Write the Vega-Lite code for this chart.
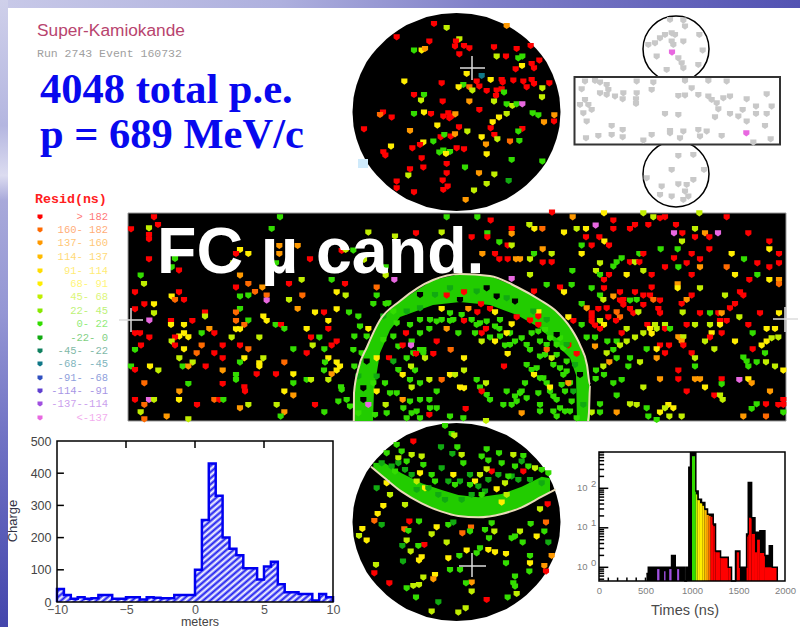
{"$schema":"https://vega.github.io/schema/vega-lite/v6.json","width":800,"height":627,"padding":0,"autosize":{"type":"none"},"background":"white","config":{"view":{"stroke":null}},"resolve":{"scale":{"x":"independent","y":"independent"}},
"datasets":{"disk":[{"x":352.5,"t":112,"b":112},{"x":353.5,"t":98,"b":126},{"x":354.5,"t":93,"b":131},{"x":356.5,"t":85,"b":139},{"x":360.5,"t":74,"b":150},{"x":366.5,"t":62,"b":162},{"x":371.5,"t":55,"b":169},{"x":376.5,"t":49,"b":175},{"x":386.5,"t":39,"b":185},{"x":391.5,"t":35,"b":189},{"x":398.5,"t":30,"b":194},{"x":406.5,"t":25,"b":199},{"x":416.5,"t":21,"b":203},{"x":426.5,"t":17,"b":207},{"x":441.5,"t":14,"b":210},{"x":456.5,"t":13,"b":211},{"x":471.5,"t":14,"b":210},{"x":486.5,"t":17,"b":207},{"x":496.5,"t":21,"b":203},{"x":506.5,"t":25,"b":199},{"x":514.5,"t":30,"b":194},{"x":521.5,"t":35,"b":189},{"x":526.5,"t":39,"b":185},{"x":536.5,"t":49,"b":175},{"x":541.5,"t":55,"b":169},{"x":546.5,"t":62,"b":162},{"x":552.5,"t":74,"b":150},{"x":556.5,"t":85,"b":139},{"x":558.5,"t":93,"b":131},{"x":559.5,"t":98,"b":126},{"x":560.5,"t":112,"b":112}]},
"layer":[
{"data":{"values":[{"x":0,"x2":800,"y":0,"y2":8}]},"mark":{"type":"rect","color":{"gradient":"linear","x1":0,"y1":0,"x2":1,"y2":0,"stops":[{"offset":0,"color":"#c8c9e8"},{"offset":0.35,"color":"#aeb0de"},{"offset":0.6,"color":"#8080c8"},{"offset":1,"color":"#5252b2"}]}},"encoding":{"x":{"field":"x","type":"quantitative","scale":{"domain":[0,800],"range":[0,800],"nice":false},"axis":null},"x2":{"field":"x2"},"y":{"field":"y","type":"quantitative","scale":{"domain":[0,627],"range":[0,627],"nice":false},"axis":null},"y2":{"field":"y2"}}},
{"data":{"values":[{"x":0,"x2":8,"y":0,"y2":627}]},"mark":{"type":"rect","color":{"gradient":"linear","x1":0,"y1":0,"x2":0,"y2":1,"stops":[{"offset":0,"color":"#cfd0ea"},{"offset":0.2,"color":"#b4b6e0"},{"offset":0.28,"color":"#dcdcf0"},{"offset":0.32,"color":"#a8a9da"},{"offset":0.5,"color":"#9496d4"},{"offset":0.7,"color":"#7072c4"},{"offset":1,"color":"#4446ac"}]}},"encoding":{"x":{"field":"x","type":"quantitative","scale":{"domain":[0,800],"range":[0,800],"nice":false},"axis":null},"x2":{"field":"x2"},"y":{"field":"y","type":"quantitative","scale":{"domain":[0,627],"range":[0,627],"nice":false},"axis":null},"y2":{"field":"y2"}}},
{"data":{"name":"disk"},"mark":{"type":"area","color":"black"},"encoding":{"x":{"field":"x","type":"quantitative","scale":{"domain":[0,800],"range":[0,800],"nice":false},"axis":null},"y":{"field":"t","type":"quantitative","scale":{"domain":[0,627],"range":[0,627],"nice":false},"axis":null},"y2":{"field":"b"}}},
{"data":{"name":"disk"},"mark":{"type":"area","color":"black"},"encoding":{"x":{"field":"x","type":"quantitative","scale":{"domain":[0,800],"range":[0,800],"nice":false},"axis":null},"y":{"field":"t","type":"quantitative","scale":{"domain":[0,627],"range":[410,1037],"nice":false},"axis":null},"y2":{"field":"b"}}},
{"data":{"values":[{"x":128,"x2":786,"y":213,"y2":421}]},"mark":{"type":"rect","color":"black","stroke":"#999999","strokeWidth":1},"encoding":{"x":{"field":"x","type":"quantitative","scale":{"domain":[0,800],"range":[0,800],"nice":false},"axis":null},"x2":{"field":"x2"},"y":{"field":"y","type":"quantitative","scale":{"domain":[0,627],"range":[0,627],"nice":false},"axis":null},"y2":{"field":"y2"}}},
{"data":{"values":[{"x":676,"y":49},{"x":676,"y":174}]},"mark":{"type":"point","shape":"circle","size":4356,"color":"black","fill":"white","filled":false,"fillOpacity":1,"strokeWidth":1.5,"opacity":1},"encoding":{"x":{"field":"x","type":"quantitative","scale":{"domain":[0,800],"range":[0,800],"nice":false},"axis":null},"y":{"field":"y","type":"quantitative","scale":{"domain":[0,627],"range":[0,627],"nice":false},"axis":null}}},
{"data":{"values":[{"x":574.5,"x2":780,"y":77,"y2":144.5}]},"mark":{"type":"rect","color":"white","stroke":"#333333","strokeWidth":2},"encoding":{"x":{"field":"x","type":"quantitative","scale":{"domain":[0,800],"range":[0,800],"nice":false},"axis":null},"x2":{"field":"x2"},"y":{"field":"y","type":"quantitative","scale":{"domain":[0,627],"range":[0,627],"nice":false},"axis":null},"y2":{"field":"y2"}}},
{"data":{"values":[{"x":358,"x2":368,"y":159,"y2":168}]},"mark":{"type":"rect","color":"#cfeafb"},"encoding":{"x":{"field":"x","type":"quantitative","scale":{"domain":[0,800],"range":[0,800],"nice":false},"axis":null},"x2":{"field":"x2"},"y":{"field":"y","type":"quantitative","scale":{"domain":[0,627],"range":[0,627],"nice":false},"axis":null},"y2":{"field":"y2"}}},
{"data":{"values":[{"x":354,"t":393,"b":421},{"x":358,"t":370,"b":421},{"x":367,"t":347,"b":421},{"x":373,"t":333,"b":421},{"x":374,"t":333,"b":390},{"x":380,"t":320,"b":353},{"x":390,"t":310,"b":330},{"x":400,"t":301,"b":317},{"x":433,"t":280,"b":305},{"x":460,"t":274,"b":302},{"x":490,"t":276,"b":305},{"x":517,"t":287,"b":315},{"x":540,"t":300,"b":328},{"x":557,"t":312,"b":345},{"x":570,"t":327,"b":358},{"x":576,"t":336,"b":375},{"x":577,"t":337,"b":421},{"x":580,"t":345,"b":421},{"x":587,"t":365,"b":421},{"x":590,"t":385,"b":421}]},"mark":{"type":"area","color":"#22cc00"},"encoding":{"x":{"field":"x","type":"quantitative","scale":{"domain":[0,800],"range":[0,800],"nice":false},"axis":null},"y":{"field":"t","type":"quantitative","scale":{"domain":[0,627],"range":[0,627],"nice":false},"axis":null},"y2":{"field":"b"}}},
{"data":{"values":[{"x":85,"t":128,"b":145},{"x":120,"t":130,"b":175},{"x":170,"t":160,"b":215},{"x":230,"t":190,"b":250},{"x":290,"t":210,"b":275},{"x":340,"t":225,"b":288},{"x":400,"t":232,"b":292},{"x":470,"t":222,"b":282},{"x":530,"t":200,"b":262},{"x":590,"t":170,"b":230},{"x":615,"t":175,"b":215}]},"mark":{"type":"area","color":"#22cc00"},"encoding":{"x":{"field":"x","type":"quantitative","scale":{"domain":[0,675],"range":[345,570],"nice":false},"axis":null},"y":{"field":"t","type":"quantitative","scale":{"domain":[0,621],"range":[420,627],"nice":false},"axis":null},"y2":{"field":"b"}}},
{"data":{"values":[{"x":252,"y":72,"c":"r"},{"x":290,"y":84,"c":"l"},{"x":470,"y":78,"c":"a"},{"x":140,"y":112,"c":"r"},{"x":238,"y":125,"c":"r"},{"x":328,"y":118,"c":"l"},{"x":318,"y":125,"c":"r"},{"x":315,"y":140,"c":"r"},{"x":342,"y":138,"c":"r"},{"x":358,"y":145,"c":"r"},{"x":432,"y":142,"c":"r"},{"x":500,"y":147,"c":"r"},{"x":542,"y":138,"c":"r"},{"x":192,"y":152,"c":"g"},{"x":215,"y":152,"c":"y"},{"x":225,"y":147,"c":"a"},{"x":328,"y":163,"c":"r"},{"x":440,"y":170,"c":"l"},{"x":468,"y":170,"c":"r"},{"x":505,"y":175,"c":"g"},{"x":517,"y":170,"c":"g"},{"x":568,"y":182,"c":"r"},{"x":545,"y":192,"c":"r"},{"x":552,"y":205,"c":"r"},{"x":516,"y":198,"c":"y"},{"x":497,"y":208,"c":"r"},{"x":350,"y":222,"c":"y"},{"x":395,"y":228,"c":"t"},{"x":422,"y":240,"c":"y"},{"x":455,"y":240,"c":"r"},{"x":458,"y":248,"c":"r"},{"x":490,"y":242,"c":"r"},{"x":520,"y":245,"c":"r"},{"x":530,"y":262,"c":"r"},{"x":545,"y":240,"c":"r"},{"x":552,"y":252,"c":"r"},{"x":598,"y":250,"c":"r"},{"x":577,"y":265,"c":"l"},{"x":576,"y":292,"c":"l"},{"x":163,"y":245,"c":"y"},{"x":275,"y":250,"c":"r"},{"x":340,"y":255,"c":"g"},{"x":326,"y":262,"c":"y"},{"x":358,"y":262,"c":"o"},{"x":367,"y":272,"c":"l"},{"x":380,"y":245,"c":"r"},{"x":388,"y":260,"c":"r"},{"x":410,"y":273,"c":"r"},{"x":440,"y":272,"c":"r"},{"x":455,"y":268,"c":"r"},{"x":462,"y":278,"c":"g"},{"x":438,"y":288,"c":"r"},{"x":192,"y":285,"c":"r"},{"x":222,"y":285,"c":"g"},{"x":213,"y":302,"c":"l"},{"x":278,"y":305,"c":"r"},{"x":358,"y":305,"c":"a"},{"x":432,"y":305,"c":"l"},{"x":388,"y":330,"c":"r"},{"x":470,"y":313,"c":"g"},{"x":487,"y":318,"c":"l"},{"x":500,"y":313,"c":"g"},{"x":517,"y":313,"c":"p"},{"x":99,"y":338,"c":"r"},{"x":90,"y":345,"c":"o"},{"x":125,"y":353,"c":"r"},{"x":192,"y":342,"c":"g"},{"x":222,"y":338,"c":"y"},{"x":243,"y":342,"c":"r"},{"x":280,"y":350,"c":"r"},{"x":295,"y":340,"c":"r"},{"x":305,"y":350,"c":"r"},{"x":316,"y":343,"c":"a"},{"x":298,"y":355,"c":"r"},{"x":548,"y":340,"c":"g"},{"x":565,"y":346,"c":"g"},{"x":613,"y":346,"c":"a"},{"x":612,"y":365,"c":"r"},{"x":470,"y":342,"c":"l"},{"x":447,"y":353,"c":"y"},{"x":428,"y":367,"c":"y"},{"x":582,"y":367,"c":"a"},{"x":42,"y":388,"c":"r"},{"x":262,"y":377,"c":"y"},{"x":327,"y":382,"c":"r"},{"x":180,"y":393,"c":"a"},{"x":352,"y":395,"c":"l"},{"x":422,"y":385,"c":"r"},{"x":517,"y":387,"c":"r"},{"x":505,"y":395,"c":"g"},{"x":272,"y":412,"c":"r"},{"x":283,"y":405,"c":"g"},{"x":302,"y":410,"c":"r"},{"x":315,"y":403,"c":"a"},{"x":395,"y":412,"c":"y"},{"x":433,"y":405,"c":"r"},{"x":442,"y":418,"c":"l"},{"x":508,"y":423,"c":"g"},{"x":480,"y":425,"c":"o"},{"x":123,"y":440,"c":"y"},{"x":250,"y":425,"c":"g"},{"x":220,"y":428,"c":"y"},{"x":210,"y":435,"c":"r"},{"x":187,"y":445,"c":"r"},{"x":320,"y":445,"c":"r"},{"x":342,"y":448,"c":"r"},{"x":408,"y":434,"c":"a"},{"x":100,"y":457,"c":"r"},{"x":106,"y":467,"c":"r"},{"x":268,"y":458,"c":"g"},{"x":280,"y":452,"c":"g"},{"x":300,"y":456,"c":"g"},{"x":288,"y":462,"c":"y"},{"x":410,"y":463,"c":"y"},{"x":215,"y":475,"c":"r"},{"x":485,"y":480,"c":"g"},{"x":577,"y":485,"c":"g"},{"x":290,"y":492,"c":"r"},{"x":220,"y":503,"c":"r"},{"x":345,"y":503,"c":"g"},{"x":180,"y":508,"c":"r"},{"x":175,"y":527,"c":"l"},{"x":290,"y":520,"c":"r"},{"x":387,"y":520,"c":"a"},{"x":433,"y":524,"c":"l"},{"x":278,"y":542,"c":"r"},{"x":140,"y":545,"c":"r"},{"x":476,"y":543,"c":"d"},{"x":410,"y":552,"c":"l"},{"x":293,"y":560,"c":"r"},{"x":280,"y":570,"c":"r"},{"x":140,"y":565,"c":"r"},{"x":192,"y":577,"c":"r"},{"x":372,"y":572,"c":"l"},{"x":347,"y":600,"c":"a"},
{"x":960,"y":60,"c":"s"},{"x":1000,"y":62,"c":"s"},{"x":1005,"y":80,"c":"s"},{"x":1048,"y":105,"c":"s"},{"x":945,"y":105,"c":"s"},{"x":930,"y":115,"c":"s"},{"x":915,"y":130,"c":"s"},{"x":965,"y":100,"c":"s"},{"x":975,"y":105,"c":"s"},{"x":1000,"y":125,"c":"s"},{"x":965,"y":125,"c":"s"},{"x":895,"y":135,"c":"s"},{"x":1058,"y":152,"c":"s"},{"x":920,"y":170,"c":"s"},{"x":985,"y":175,"c":"s"},{"x":995,"y":190,"c":"s"},{"x":1000,"y":205,"c":"s"},{"x":1045,"y":195,"c":"s"},{"x":950,"y":210,"c":"s"},{"x":970,"y":135,"c":"s"},{"x":966,"y":158,"c":"p"},
{"x":705,"y":245,"c":"s"},{"x":735,"y":243,"c":"s"},{"x":750,"y":248,"c":"s"},{"x":770,"y":255,"c":"s"},{"x":775,"y":270,"c":"s"},{"x":695,"y":268,"c":"s"},{"x":750,"y":280,"c":"s"},{"x":770,"y":285,"c":"s"},{"x":795,"y":290,"c":"s"},{"x":820,"y":280,"c":"s"},{"x":818,"y":298,"c":"s"},{"x":860,"y":245,"c":"s"},{"x":860,"y":280,"c":"s"},{"x":858,"y":298,"c":"s"},{"x":858,"y":312,"c":"s"},{"x":910,"y":248,"c":"s"},{"x":905,"y":270,"c":"s"},{"x":1005,"y":243,"c":"s"},{"x":1025,"y":265,"c":"s"},{"x":1075,"y":243,"c":"s"},{"x":1130,"y":245,"c":"s"},{"x":985,"y":288,"c":"s"},{"x":1005,"y":287,"c":"s"},{"x":1045,"y":285,"c":"s"},{"x":1075,"y":290,"c":"s"},{"x":1085,"y":300,"c":"s"},{"x":1100,"y":310,"c":"s"},{"x":1120,"y":295,"c":"s"},{"x":1140,"y":290,"c":"s"},{"x":1190,"y":298,"c":"s"},{"x":1250,"y":283,"c":"s"},{"x":1265,"y":320,"c":"s"},{"x":1218,"y":320,"c":"s"},{"x":1178,"y":330,"c":"s"},{"x":1165,"y":350,"c":"s"},{"x":1140,"y":342,"c":"s"},{"x":1095,"y":352,"c":"s"},{"x":1105,"y":328,"c":"s"},{"x":1218,"y":342,"c":"s"},{"x":1250,"y":342,"c":"s"},{"x":1190,"y":365,"c":"s"},{"x":1245,"y":378,"c":"s"},{"x":985,"y":345,"c":"s"},{"x":945,"y":342,"c":"s"},{"x":705,"y":300,"c":"s"},{"x":715,"y":315,"c":"s"},{"x":725,"y":330,"c":"s"},{"x":700,"y":340,"c":"s"},{"x":690,"y":315,"c":"s"},{"x":710,"y":365,"c":"s"},{"x":785,"y":378,"c":"s"},{"x":785,"y":405,"c":"s"},{"x":818,"y":390,"c":"s"},{"x":818,"y":412,"c":"s"},{"x":745,"y":408,"c":"s"},{"x":708,"y":415,"c":"s"},{"x":905,"y":405,"c":"s"},{"x":960,"y":393,"c":"s"},{"x":960,"y":400,"c":"s"},{"x":990,"y":415,"c":"s"},{"x":1000,"y":395,"c":"s"},{"x":1045,"y":390,"c":"s"},{"x":1070,"y":395,"c":"s"},{"x":1050,"y":410,"c":"s"},{"x":1115,"y":408,"c":"s"},{"x":1262,"y":418,"c":"s"},{"x":880,"y":422,"c":"s"},{"x":1210,"y":428,"c":"s"},{"x":1189,"y":400,"c":"p"},
{"x":1030,"y":465,"c":"s"},{"x":985,"y":468,"c":"s"},{"x":1062,"y":510,"c":"s"},{"x":965,"y":510,"c":"s"},{"x":890,"y":535,"c":"s"},{"x":935,"y":560,"c":"s"},{"x":985,"y":553,"c":"s"},{"x":1010,"y":555,"c":"s"},{"x":1030,"y":540,"c":"s"},{"x":1005,"y":575,"c":"s"},{"x":1015,"y":590,"c":"s"},{"x":965,"y":590,"c":"s"},{"x":930,"y":585,"c":"s"},{"x":1000,"y":600,"c":"s"}]},
"mark":{"type":"point","filled":true,"opacity":1,"shape":"M-1,-1H1V.3L0,1L-1,.3Z","size":38},"encoding":{"x":{"field":"x","type":"quantitative","scale":{"domain":[0,1350],"range":[350,800],"nice":false},"axis":null},"y":{"field":"y","type":"quantitative","scale":{"domain":[0,645],"range":[0,215],"nice":false},"axis":null},"color":{"field":"c","type":"nominal","legend":null,"scale":{"domain":["r","o","a","u","v","y","l","m","g","d","e","t","b","n","q","p","k","s"],"range":["#ff0000","#ff6a00","#ff9900","#ffbb00","#ffdd00","#ffee00","#c0ee00","#88e800","#33dd00","#11aa11","#108060","#107888","#3050c0","#6040d0","#a050e0","#e868e0","#000000","#c8c8c8"]}}}},
{"data":{"values":[{"x":462,"y":112,"c":"r"},{"x":840,"y":112,"c":"g"},{"x":474,"y":135,"c":"r"},{"x":393,"y":148,"c":"r"},{"x":447,"y":145,"c":"l"},{"x":447,"y":165,"c":"r"},{"x":447,"y":178,"c":"r"},{"x":815,"y":147,"c":"g"},{"x":1105,"y":158,"c":"l"},{"x":1185,"y":170,"c":"l"},{"x":615,"y":220,"c":"o"},{"x":893,"y":198,"c":"a"},{"x":720,"y":210,"c":"y"},{"x":708,"y":222,"c":"r"},{"x":745,"y":222,"c":"y"},{"x":1025,"y":213,"c":"r"},{"x":1037,"y":210,"c":"l"},{"x":1060,"y":212,"c":"g"},{"x":838,"y":198,"c":"a"},{"x":447,"y":238,"c":"r"},{"x":525,"y":237,"c":"g"},{"x":838,"y":222,"c":"a"},{"x":930,"y":238,"c":"r"},{"x":972,"y":238,"c":"r"},{"x":828,"y":250,"c":"g"},{"x":700,"y":250,"c":"l"},{"x":515,"y":262,"c":"g"},{"x":537,"y":272,"c":"r"},{"x":1092,"y":240,"c":"l"},{"x":1157,"y":262,"c":"g"},{"x":422,"y":287,"c":"g"},{"x":432,"y":312,"c":"l"},{"x":720,"y":287,"c":"a"},{"x":905,"y":300,"c":"l"},{"x":995,"y":300,"c":"g"},{"x":1157,"y":287,"c":"l"},{"x":1183,"y":300,"c":"p"},{"x":1035,"y":312,"c":"r"},{"x":708,"y":323,"c":"r"},{"x":745,"y":312,"c":"o"},{"x":867,"y":312,"c":"r"},{"x":787,"y":323,"c":"a"},{"x":765,"y":336,"c":"o"},{"x":1130,"y":323,"c":"o"},{"x":405,"y":337,"c":"r"},{"x":537,"y":337,"c":"r"},{"x":515,"y":350,"c":"y"},{"x":525,"y":360,"c":"o"},{"x":552,"y":360,"c":"r"},{"x":720,"y":350,"c":"g"},{"x":745,"y":347,"c":"g"},{"x":800,"y":347,"c":"o"},{"x":800,"y":362,"c":"p"},{"x":907,"y":347,"c":"o"},{"x":867,"y":360,"c":"l"},{"x":1010,"y":337,"c":"y"},{"x":1037,"y":347,"c":"l"},{"x":1130,"y":347,"c":"g"},{"x":1120,"y":372,"c":"g"},{"x":1157,"y":372,"c":"g"},{"x":433,"y":373,"c":"r"},{"x":462,"y":373,"c":"y"},{"x":405,"y":388,"c":"r"},{"x":462,"y":400,"c":"l"},{"x":720,"y":387,"c":"g"},{"x":708,"y":398,"c":"o"},{"x":893,"y":387,"c":"a"},{"x":1010,"y":388,"c":"y"},{"x":945,"y":398,"c":"y"},{"x":972,"y":398,"c":"r"},{"x":1047,"y":398,"c":"g"},{"x":1075,"y":410,"c":"g"},{"x":615,"y":398,"c":"r"},{"x":615,"y":410,"c":"l"},{"x":448,"y":422,"c":"p"},{"x":790,"y":410,"c":"y"},{"x":800,"y":423,"c":"y"},{"x":745,"y":422,"c":"g"},{"x":708,"y":423,"c":"o"},{"x":733,"y":435,"c":"o"},{"x":985,"y":423,"c":"y"},{"x":513,"y":423,"c":"r"},{"x":513,"y":435,"c":"y"},{"x":577,"y":423,"c":"r"},{"x":552,"y":435,"c":"y"},{"x":827,"y":435,"c":"g"},{"x":843,"y":435,"c":"r"},{"x":720,"y":448,"c":"y"},{"x":708,"y":448,"c":"y"},{"x":628,"y":447,"c":"a"},{"x":853,"y":447,"c":"g"},{"x":985,"y":447,"c":"r"},{"x":920,"y":447,"c":"y"},{"x":405,"y":460,"c":"r"},{"x":420,"y":460,"c":"r"},{"x":643,"y":460,"c":"r"},{"x":605,"y":460,"c":"g"},{"x":552,"y":460,"c":"y"},{"x":538,"y":470,"c":"y"},{"x":565,"y":472,"c":"y"},{"x":448,"y":473,"c":"r"},{"x":525,"y":473,"c":"r"},{"x":695,"y":473,"c":"l"},{"x":778,"y":473,"c":"l"},{"x":933,"y":473,"c":"r"},{"x":958,"y":473,"c":"g"},{"x":1063,"y":470,"c":"g"},{"x":1105,"y":447,"c":"y"},{"x":1080,"y":440,"c":"g"},{"x":1010,"y":485,"c":"r"},{"x":995,"y":497,"c":"r"},{"x":515,"y":485,"c":"l"},{"x":525,"y":497,"c":"r"},{"x":423,"y":497,"c":"r"},{"x":605,"y":497,"c":"o"},{"x":668,"y":497,"c":"r"},{"x":720,"y":497,"c":"r"},{"x":938,"y":497,"c":"l"},{"x":405,"y":510,"c":"g"},{"x":552,"y":508,"c":"y"},{"x":745,"y":508,"c":"o"},{"x":880,"y":508,"c":"g"},{"x":973,"y":508,"c":"g"},{"x":1060,"y":510,"c":"g"},{"x":590,"y":520,"c":"o"},{"x":643,"y":520,"c":"r"},{"x":920,"y":520,"c":"r"},{"x":668,"y":535,"c":"r"},{"x":538,"y":535,"c":"l"},{"x":733,"y":535,"c":"y"},{"x":720,"y":548,"c":"g"},{"x":790,"y":535,"c":"l"},{"x":853,"y":548,"c":"o"},{"x":985,"y":535,"c":"y"},{"x":1010,"y":548,"c":"y"},{"x":975,"y":548,"c":"g"},{"x":1130,"y":535,"c":"y"},{"x":1167,"y":535,"c":"r"},{"x":578,"y":548,"c":"l"},{"x":778,"y":550,"c":"y"},{"x":778,"y":560,"c":"y"},{"x":393,"y":560,"c":"g"},{"x":405,"y":570,"c":"r"},{"x":450,"y":560,"c":"y"},{"x":475,"y":572,"c":"l"},{"x":548,"y":560,"c":"g"},{"x":565,"y":560,"c":"a"},{"x":617,"y":560,"c":"r"},{"x":1020,"y":560,"c":"y"},{"x":1063,"y":560,"c":"g"},{"x":668,"y":572,"c":"a"},{"x":708,"y":585,"c":"g"},{"x":770,"y":583,"c":"r"},{"x":828,"y":583,"c":"r"},{"x":880,"y":583,"c":"y"},{"x":972,"y":572,"c":"g"},{"x":995,"y":583,"c":"a"},{"x":880,"y":610,"c":"g"},{"x":433,"y":610,"c":"o"},{"x":668,"y":612,"c":"r"},{"x":708,"y":600,"c":"g"},{"x":565,"y":612,"c":"g"},{"x":920,"y":600,"c":"g"},{"x":933,"y":600,"c":"l"},{"x":985,"y":600,"c":"l"},{"x":1010,"y":572,"c":"y"},{"x":1023,"y":622,"c":"g"},{"x":733,"y":622,"c":"r"},{"x":735,"y":635,"c":"r"},{"x":538,"y":635,"c":"a"},{"x":853,"y":635,"c":"y"},{"x":880,"y":647,"c":"a"},{"x":1130,"y":635,"c":"y"},{"x":405,"y":660,"c":"r"},{"x":447,"y":660,"c":"p"},{"x":462,"y":660,"c":"l"},{"x":537,"y":660,"c":"y"},{"x":643,"y":660,"c":"o"},{"x":658,"y":660,"c":"r"},{"x":670,"y":660,"c":"g"},{"x":591,"y":675,"c":"r"},{"x":433,"y":675,"c":"o"},{"x":422,"y":697,"c":"l"},{"x":720,"y":685,"c":"a"},{"x":745,"y":675,"c":"l"},{"x":830,"y":675,"c":"l"},{"x":945,"y":675,"c":"r"},{"x":853,"y":697,"c":"a"},{"x":973,"y":697,"c":"g"},{"x":1105,"y":675,"c":"p"},{"x":1157,"y":675,"c":"l"},{"x":842,"y":710,"c":"g"},{"x":500,"y":710,"c":"a"},{"x":433,"y":718,"c":"o"},{"x":565,"y":718,"c":"l"},{"x":1085,"y":520,"c":"g"},{"x":1100,"y":545,"c":"k"},{"x":1075,"y":590,"c":"d"},{"x":1090,"y":625,"c":"k"},{"x":1120,"y":610,"c":"g"},{"x":1130,"y":590,"c":"d"},{"x":1155,"y":610,"c":"g"},{"x":1170,"y":640,"c":"g"},{"x":1100,"y":470,"c":"g"},{"x":1150,"y":410,"c":"d"},{"x":1180,"y":395,"c":"g"},{"x":1165,"y":370,"c":"g"},{"x":1150,"y":480,"c":"g"},{"x":1190,"y":430,"c":"g"},{"x":1195,"y":500,"c":"g"},{"x":1180,"y":545,"c":"d"},{"x":1040,"y":660,"c":"g"},{"x":1025,"y":630,"c":"g"},{"x":1075,"y":700,"c":"g"},{"x":1125,"y":705,"c":"g"},{"x":1160,"y":550,"c":"k"},{"x":1090,"y":660,"c":"k"},{"x":1160,"y":700,"c":"g"},{"x":1190,"y":640,"c":"g"},{"x":1195,"y":570,"c":"g"},{"x":1180,"y":470,"c":"g"},{"x":1050,"y":680,"c":"g"},{"x":1015,"y":665,"c":"g"}]},
"mark":{"type":"point","filled":true,"opacity":1,"shape":"M-1,-1H1V.3L0,1L-1,.3Z","size":38},"encoding":{"x":{"field":"x","type":"quantitative","scale":{"domain":[0,1200],"range":[0,400],"nice":false},"axis":null},"y":{"field":"y","type":"quantitative","scale":{"domain":[0,750],"range":[180,430],"nice":false},"axis":null},"color":{"field":"c","type":"nominal","legend":null}}},
{"data":{"values":[{"x":456,"y":23,"c":"r"},{"x":612,"y":25,"c":"y"},{"x":730,"y":25,"c":"l"},{"x":898,"y":25,"c":"l"},{"x":140,"y":37,"c":"g"},{"x":232,"y":37,"c":"g"},{"x":518,"y":37,"c":"a"},{"x":272,"y":47,"c":"r"},{"x":640,"y":47,"c":"r"},{"x":760,"y":37,"c":"l"},{"x":780,"y":40,"c":"r"},{"x":795,"y":37,"c":"r"},{"x":980,"y":37,"c":"r"},{"x":388,"y":60,"c":"l"},{"x":403,"y":72,"c":"y"},{"x":427,"y":72,"c":"o"},{"x":530,"y":72,"c":"l"},{"x":558,"y":72,"c":"y"},{"x":587,"y":62,"c":"p"},{"x":640,"y":72,"c":"r"},{"x":705,"y":60,"c":"r"},{"x":690,"y":72,"c":"r"},{"x":745,"y":60,"c":"r"},{"x":828,"y":60,"c":"r"},{"x":885,"y":72,"c":"l"},{"x":335,"y":72,"c":"r"},{"x":335,"y":87,"c":"a"},{"x":48,"y":85,"c":"r"},{"x":125,"y":83,"c":"l"},{"x":262,"y":85,"c":"g"},{"x":492,"y":83,"c":"y"},{"x":558,"y":97,"c":"r"},{"x":598,"y":97,"c":"r"},{"x":822,"y":85,"c":"p"},{"x":847,"y":85,"c":"r"},{"x":915,"y":85,"c":"a"},{"x":954,"y":85,"c":"p"},{"x":1045,"y":85,"c":"r"},{"x":215,"y":97,"c":"r"},{"x":262,"y":97,"c":"r"},{"x":885,"y":97,"c":"r"},{"x":928,"y":97,"c":"r"},{"x":613,"y":110,"c":"y"},{"x":846,"y":110,"c":"l"},{"x":1108,"y":110,"c":"r"},{"x":298,"y":112,"c":"g"},{"x":323,"y":122,"c":"r"},{"x":335,"y":122,"c":"l"},{"x":545,"y":122,"c":"g"},{"x":575,"y":122,"c":"r"},{"x":627,"y":122,"c":"r"},{"x":782,"y":133,"c":"g"},{"x":833,"y":133,"c":"g"},{"x":928,"y":133,"c":"r"},{"x":1108,"y":133,"c":"y"},{"x":428,"y":133,"c":"a"},{"x":545,"y":147,"c":"y"},{"x":247,"y":147,"c":"a"},{"x":285,"y":147,"c":"r"},{"x":402,"y":147,"c":"g"},{"x":455,"y":147,"c":"l"},{"x":718,"y":147,"c":"g"},{"x":730,"y":147,"c":"r"},{"x":875,"y":147,"c":"r"},{"x":995,"y":147,"c":"y"},{"x":1137,"y":147,"c":"r"},{"x":298,"y":163,"c":"r"},{"x":323,"y":163,"c":"r"},{"x":348,"y":163,"c":"a"},{"x":360,"y":163,"c":"a"},{"x":390,"y":163,"c":"l"},{"x":665,"y":160,"c":"g"},{"x":650,"y":172,"c":"g"},{"x":822,"y":160,"c":"r"},{"x":900,"y":163,"c":"r"},{"x":1032,"y":163,"c":"g"},{"x":428,"y":173,"c":"r"},{"x":455,"y":172,"c":"r"},{"x":600,"y":175,"c":"l"},{"x":690,"y":172,"c":"r"},{"x":705,"y":172,"c":"l"},{"x":718,"y":172,"c":"r"},{"x":860,"y":175,"c":"r"},{"x":1072,"y":175,"c":"r"},{"x":1137,"y":175,"c":"r"},{"x":640,"y":185,"c":"g"},{"x":795,"y":187,"c":"r"},{"x":835,"y":187,"c":"g"},{"x":900,"y":187,"c":"a"},{"x":980,"y":187,"c":"o"},{"x":1108,"y":187,"c":"r"},{"x":517,"y":198,"c":"g"},{"x":588,"y":198,"c":"l"},{"x":730,"y":198,"c":"l"},{"x":390,"y":210,"c":"l"},{"x":600,"y":210,"c":"g"},{"x":627,"y":210,"c":"r"},{"x":680,"y":210,"c":"y"},{"x":755,"y":210,"c":"r"},{"x":875,"y":210,"c":"r"},{"x":1005,"y":210,"c":"y"},{"x":1072,"y":210,"c":"g"},{"x":335,"y":222,"c":"p"},{"x":612,"y":225,"c":"r"},{"x":1048,"y":225,"c":"r"},{"x":1108,"y":225,"c":"y"},{"x":1137,"y":225,"c":"a"},{"x":1137,"y":238,"c":"o"},{"x":440,"y":240,"c":"g"},{"x":515,"y":240,"c":"g"},{"x":480,"y":248,"c":"r"},{"x":833,"y":238,"c":"a"},{"x":833,"y":250,"c":"y"},{"x":755,"y":248,"c":"r"},{"x":612,"y":250,"c":"r"},{"x":402,"y":260,"c":"r"},{"x":492,"y":262,"c":"y"},{"x":575,"y":250,"c":"g"},{"x":900,"y":250,"c":"l"},{"x":660,"y":262,"c":"r"},{"x":705,"y":262,"c":"r"},{"x":730,"y":272,"c":"r"},{"x":750,"y":272,"c":"r"},{"x":600,"y":272,"c":"g"},{"x":640,"y":275,"c":"a"},{"x":660,"y":287,"c":"r"},{"x":975,"y":272,"c":"l"},{"x":1020,"y":262,"c":"r"},{"x":1030,"y":272,"c":"r"},{"x":875,"y":272,"c":"r"},{"x":860,"y":285,"c":"a"},{"x":670,"y":285,"c":"r"},{"x":690,"y":287,"c":"g"},{"x":710,"y":285,"c":"g"},{"x":760,"y":285,"c":"o"},{"x":780,"y":287,"c":"r"},{"x":545,"y":297,"c":"g"},{"x":610,"y":285,"c":"l"},{"x":845,"y":297,"c":"r"},{"x":670,"y":300,"c":"r"},{"x":730,"y":300,"c":"r"},{"x":1005,"y":297,"c":"r"},{"x":690,"y":312,"c":"r"},{"x":560,"y":310,"c":"a"},{"x":595,"y":312,"c":"r"},{"x":620,"y":310,"c":"r"},{"x":650,"y":322,"c":"o"},{"x":775,"y":312,"c":"r"},{"x":990,"y":310,"c":"r"},{"x":848,"y":323,"c":"l"},{"x":900,"y":325,"c":"r"},{"x":930,"y":325,"c":"g"},{"x":955,"y":325,"c":"r"},{"x":965,"y":325,"c":"a"},{"x":1080,"y":325,"c":"r"},{"x":1137,"y":325,"c":"y"},{"x":575,"y":325,"c":"r"},{"x":700,"y":325,"c":"r"},{"x":715,"y":322,"c":"l"},{"x":780,"y":325,"c":"r"},{"x":1018,"y":337,"c":"l"},{"x":575,"y":337,"c":"r"},{"x":625,"y":337,"c":"r"},{"x":660,"y":337,"c":"o"},{"x":648,"y":348,"c":"r"},{"x":600,"y":348,"c":"l"},{"x":575,"y":350,"c":"r"},{"x":960,"y":348,"c":"r"},{"x":980,"y":348,"c":"r"},{"x":520,"y":348,"c":"r"},{"x":505,"y":337,"c":"y"},{"x":545,"y":360,"c":"g"},{"x":742,"y":360,"c":"r"},{"x":860,"y":360,"c":"r"},{"x":885,"y":360,"c":"l"},{"x":930,"y":360,"c":"l"},{"x":1045,"y":360,"c":"r"},{"x":585,"y":362,"c":"r"},{"x":612,"y":360,"c":"y"},{"x":765,"y":360,"c":"l"},{"x":795,"y":360,"c":"l"},{"x":960,"y":360,"c":"y"},{"x":600,"y":372,"c":"r"},{"x":680,"y":372,"c":"l"},{"x":795,"y":372,"c":"r"},{"x":1100,"y":372,"c":"y"},{"x":1125,"y":372,"c":"y"},{"x":750,"y":372,"c":"y"},{"x":770,"y":372,"c":"l"},{"x":810,"y":372,"c":"g"},{"x":665,"y":385,"c":"r"},{"x":755,"y":387,"c":"y"},{"x":730,"y":385,"c":"l"},{"x":935,"y":385,"c":"y"},{"x":965,"y":385,"c":"r"},{"x":1058,"y":385,"c":"g"},{"x":705,"y":398,"c":"l"},{"x":835,"y":397,"c":"a"},{"x":850,"y":397,"c":"l"},{"x":930,"y":398,"c":"r"},{"x":560,"y":398,"c":"g"},{"x":585,"y":398,"c":"g"},{"x":622,"y":410,"c":"g"},{"x":650,"y":410,"c":"g"},{"x":915,"y":410,"c":"l"},{"x":680,"y":410,"c":"l"},{"x":845,"y":410,"c":"a"},{"x":1005,"y":410,"c":"y"},{"x":1100,"y":410,"c":"y"},{"x":1115,"y":400,"c":"l"},{"x":1135,"y":398,"c":"l"},{"x":1085,"y":422,"c":"y"},{"x":780,"y":422,"c":"r"},{"x":807,"y":422,"c":"r"},{"x":850,"y":422,"c":"r"},{"x":585,"y":425,"c":"a"},{"x":660,"y":422,"c":"l"},{"x":640,"y":435,"c":"g"},{"x":740,"y":433,"c":"g"},{"x":943,"y":433,"c":"l"},{"x":1058,"y":433,"c":"r"},{"x":770,"y":433,"c":"y"},{"x":795,"y":445,"c":"r"},{"x":875,"y":445,"c":"r"},{"x":1095,"y":445,"c":"g"},{"x":620,"y":445,"c":"l"},{"x":885,"y":460,"c":"l"},{"x":650,"y":460,"c":"g"},{"x":770,"y":460,"c":"a"},{"x":690,"y":460,"c":"g"},{"x":1030,"y":458,"c":"g"},{"x":1040,"y":470,"c":"g"},{"x":1045,"y":485,"c":"g"},{"x":628,"y":472,"c":"a"},{"x":720,"y":472,"c":"l"},{"x":1070,"y":472,"c":"g"},{"x":685,"y":485,"c":"g"},{"x":1098,"y":472,"c":"l"},{"x":610,"y":485,"c":"l"},{"x":588,"y":497,"c":"g"},{"x":885,"y":485,"c":"g"},{"x":835,"y":497,"c":"r"},{"x":1125,"y":485,"c":"l"},{"x":1150,"y":497,"c":"y"},{"x":612,"y":510,"c":"g"},{"x":780,"y":523,"c":"a"},{"x":835,"y":523,"c":"r"},{"x":885,"y":523,"c":"a"},{"x":900,"y":523,"c":"a"},{"x":965,"y":523,"c":"r"},{"x":1018,"y":525,"c":"p"},{"x":1045,"y":523,"c":"y"},{"x":587,"y":522,"c":"g"},{"x":665,"y":525,"c":"g"},{"x":640,"y":535,"c":"g"},{"x":965,"y":538,"c":"g"},{"x":730,"y":548,"c":"l"},{"x":915,"y":548,"c":"y"},{"x":1055,"y":535,"c":"a"},{"x":860,"y":560,"c":"r"},{"x":1110,"y":560,"c":"a"},{"x":650,"y":572,"c":"g"},{"x":943,"y":572,"c":"r"},{"x":960,"y":572,"c":"l"},{"x":968,"y":585,"c":"l"},{"x":1150,"y":585,"c":"r"},{"x":690,"y":598,"c":"l"},{"x":710,"y":600,"c":"l"},{"x":805,"y":600,"c":"y"},{"x":820,"y":610,"c":"y"},{"x":795,"y":610,"c":"l"},{"x":1070,"y":598,"c":"g"},{"x":1098,"y":598,"c":"r"},{"x":1135,"y":600,"c":"r"},{"x":1150,"y":600,"c":"r"},{"x":600,"y":598,"c":"g"},{"x":740,"y":610,"c":"g"},{"x":1055,"y":612,"c":"g"},{"x":650,"y":623,"c":"a"},{"x":780,"y":623,"c":"y"},{"x":1150,"y":623,"c":"g"},{"x":745,"y":635,"c":"g"},{"x":808,"y":635,"c":"l"},{"x":845,"y":635,"c":"l"},{"x":1030,"y":635,"c":"a"},{"x":1098,"y":635,"c":"o"},{"x":770,"y":645,"c":"g"},{"x":575,"y":623,"c":"l"},{"x":600,"y":623,"c":"g"},
{"x":60,"y":385,"c":"g"},{"x":88,"y":372,"c":"g"},{"x":35,"y":410,"c":"g"},{"x":20,"y":460,"c":"g"},{"x":60,"y":435,"c":"g"},{"x":70,"y":445,"c":"g"},{"x":45,"y":497,"c":"g"},{"x":30,"y":525,"c":"g"},{"x":60,"y":585,"c":"g"},{"x":88,"y":585,"c":"g"},{"x":110,"y":560,"c":"g"},{"x":60,"y":535,"c":"g"},{"x":70,"y":435,"c":"g"},{"x":298,"y":372,"c":"g"},{"x":230,"y":360,"c":"g"},{"x":240,"y":355,"c":"g"},{"x":90,"y":345,"c":"g"},{"x":110,"y":350,"c":"g"},{"x":150,"y":325,"c":"g"},{"x":160,"y":345,"c":"g"},{"x":150,"y":348,"c":"g"},{"x":300,"y":345,"c":"g"},{"x":300,"y":395,"c":"g"},{"x":270,"y":398,"c":"g"},{"x":345,"y":410,"c":"g"},{"x":330,"y":420,"c":"g"},{"x":315,"y":422,"c":"g"},{"x":390,"y":435,"c":"g"},{"x":380,"y":420,"c":"g"},{"x":415,"y":380,"c":"g"},{"x":435,"y":375,"c":"g"},{"x":420,"y":410,"c":"g"},{"x":450,"y":400,"c":"g"},{"x":470,"y":420,"c":"g"},{"x":480,"y":400,"c":"g"},{"x":490,"y":430,"c":"g"},{"x":420,"y":455,"c":"g"},{"x":435,"y":450,"c":"g"},{"x":380,"y":480,"c":"g"},{"x":395,"y":495,"c":"g"},{"x":410,"y":490,"c":"g"},{"x":460,"y":480,"c":"g"},{"x":480,"y":490,"c":"g"},{"x":500,"y":500,"c":"g"},{"x":490,"y":510,"c":"g"},{"x":420,"y":520,"c":"g"},{"x":440,"y":535,"c":"g"},{"x":430,"y":520,"c":"g"},{"x":375,"y":535,"c":"g"},{"x":360,"y":565,"c":"g"},{"x":345,"y":575,"c":"g"},{"x":365,"y":560,"c":"g"},{"x":380,"y":580,"c":"g"},{"x":350,"y":590,"c":"g"},{"x":420,"y":600,"c":"g"},{"x":415,"y":565,"c":"g"},{"x":450,"y":560,"c":"g"},{"x":460,"y":575,"c":"g"},{"x":470,"y":585,"c":"g"},{"x":480,"y":610,"c":"g"},{"x":495,"y":620,"c":"g"},{"x":460,"y":620,"c":"g"},{"x":420,"y":620,"c":"g"},{"x":470,"y":635,"c":"g"},{"x":510,"y":620,"c":"g"},{"x":530,"y":640,"c":"g"},{"x":320,"y":560,"c":"g"},{"x":335,"y":600,"c":"g"},{"x":310,"y":600,"c":"g"},{"x":260,"y":570,"c":"g"},{"x":270,"y":585,"c":"g"},{"x":230,"y":525,"c":"g"},{"x":240,"y":548,"c":"g"},{"x":150,"y":635,"c":"g"},{"x":110,"y":610,"c":"g"},{"x":190,"y":640,"c":"g"},{"x":10,"y":610,"c":"g"},{"x":35,"y":625,"c":"g"},{"x":90,"y":610,"c":"g"},{"x":60,"y":640,"c":"g"},{"x":20,"y":640,"c":"g"},{"x":225,"y":385,"c":"g"},{"x":175,"y":385,"c":"g"},{"x":30,"y":360,"c":"g"},{"x":60,"y":345,"c":"g"},{"x":125,"y":345,"c":"g"},{"x":185,"y":330,"c":"g"},{"x":215,"y":345,"c":"g"},{"x":260,"y":350,"c":"g"},{"x":285,"y":365,"c":"g"},{"x":330,"y":385,"c":"g"},{"x":365,"y":400,"c":"g"},{"x":395,"y":385,"c":"g"},{"x":440,"y":420,"c":"g"},{"x":470,"y":450,"c":"g"},{"x":500,"y":470,"c":"g"},{"x":510,"y":535,"c":"g"},{"x":515,"y":590,"c":"g"},{"x":495,"y":560,"c":"g"},{"x":485,"y":540,"c":"g"},{"x":40,"y":445,"c":"g"},{"x":30,"y":590,"c":"g"},{"x":50,"y":620,"c":"g"},
{"x":140,"y":272,"c":"r"},{"x":192,"y":262,"c":"r"},{"x":243,"y":298,"c":"r"},{"x":125,"y":312,"c":"y"},{"x":205,"y":312,"c":"a"},{"x":232,"y":322,"c":"r"},{"x":270,"y":312,"c":"r"},{"x":285,"y":322,"c":"y"},{"x":350,"y":337,"c":"r"},{"x":390,"y":347,"c":"r"},{"x":415,"y":322,"c":"y"},{"x":415,"y":335,"c":"r"},{"x":415,"y":360,"c":"r"},{"x":335,"y":358,"c":"y"},{"x":192,"y":348,"c":"r"},{"x":320,"y":385,"c":"y"},{"x":245,"y":385,"c":"r"},{"x":258,"y":372,"c":"r"},{"x":140,"y":372,"c":"a"},{"x":18,"y":385,"c":"r"},{"x":110,"y":410,"c":"r"},{"x":245,"y":410,"c":"l"},{"x":285,"y":410,"c":"y"},{"x":8,"y":422,"c":"r"},{"x":33,"y":422,"c":"p"},{"x":152,"y":435,"c":"o"},{"x":100,"y":447,"c":"r"},{"x":48,"y":447,"c":"r"},{"x":440,"y":435,"c":"o"},{"x":323,"y":447,"c":"y"},{"x":455,"y":460,"c":"l"},{"x":505,"y":422,"c":"r"},{"x":530,"y":447,"c":"r"},{"x":192,"y":460,"c":"y"},{"x":75,"y":460,"c":"l"},{"x":312,"y":485,"c":"r"},{"x":33,"y":485,"c":"l"},{"x":402,"y":510,"c":"y"},{"x":150,"y":510,"c":"y"},{"x":165,"y":510,"c":"l"},{"x":125,"y":525,"c":"o"},{"x":88,"y":525,"c":"l"},{"x":192,"y":497,"c":"l"},{"x":8,"y":510,"c":"y"},{"x":35,"y":548,"c":"l"},{"x":258,"y":535,"c":"l"},{"x":180,"y":548,"c":"y"},{"x":192,"y":550,"c":"y"},{"x":245,"y":560,"c":"r"},{"x":450,"y":548,"c":"y"},{"x":505,"y":535,"c":"a"},{"x":8,"y":585,"c":"a"},{"x":365,"y":625,"c":"a"},{"x":197,"y":612,"c":"r"},{"x":88,"y":630,"c":"r"},{"x":258,"y":648,"c":"l"},
{"x":60,"y":270,"c":"k"},{"x":150,"y":250,"c":"d"},{"x":230,"y":260,"c":"d"},{"x":290,"y":275,"c":"k"},{"x":345,"y":290,"c":"k"},{"x":320,"y":280,"c":"d"},{"x":400,"y":320,"c":"d"},{"x":440,"y":345,"c":"d"},{"x":470,"y":390,"c":"k"},{"x":500,"y":420,"c":"d"},{"x":525,"y":480,"c":"d"},{"x":540,"y":510,"c":"k"},{"x":520,"y":560,"c":"d"},{"x":550,"y":600,"c":"d"},{"x":105,"y":270,"c":"d"},{"x":180,"y":285,"c":"k"},{"x":260,"y":250,"c":"k"},{"x":60,"y":310,"c":"d"},{"x":20,"y":320,"c":"d"}]},
"mark":{"type":"point","filled":true,"opacity":1,"shape":"M-1,-1H1V.3L0,1L-1,.3Z","size":38},"encoding":{"x":{"field":"x","type":"quantitative","scale":{"domain":[0,1200],"range":[400,800],"nice":false},"axis":null},"y":{"field":"y","type":"quantitative","scale":{"domain":[0,675],"range":[205,430],"nice":false},"axis":null},"color":{"field":"c","type":"nominal","legend":null}}},
{"data":{"values":[{"x":300,"y":18,"c":"g"},{"x":205,"y":65,"c":"r"},{"x":320,"y":42,"c":"g"},{"x":328,"y":47,"c":"l"},{"x":155,"y":75,"c":"g"},{"x":288,"y":82,"c":"d"},{"x":337,"y":82,"c":"g"},{"x":322,"y":102,"c":"d"},{"x":350,"y":105,"c":"l"},{"x":425,"y":88,"c":"g"},{"x":462,"y":100,"c":"g"},{"x":410,"y":110,"c":"g"},{"x":505,"y":105,"c":"l"},{"x":535,"y":108,"c":"g"},{"x":125,"y":100,"c":"g"},{"x":170,"y":95,"c":"g"},{"x":160,"y":115,"c":"l"},{"x":200,"y":105,"c":"l"},{"x":230,"y":110,"c":"l"},{"x":430,"y":122,"c":"g"},{"x":470,"y":130,"c":"g"},{"x":355,"y":130,"c":"g"},{"x":235,"y":135,"c":"g"},{"x":510,"y":140,"c":"g"},{"x":570,"y":145,"c":"l"},{"x":440,"y":155,"c":"r"},{"x":535,"y":155,"c":"r"},{"x":425,"y":148,"c":"l"},{"x":325,"y":165,"c":"y"},{"x":390,"y":185,"c":"y"},{"x":405,"y":165,"c":"l"},{"x":225,"y":160,"c":"y"},{"x":455,"y":208,"c":"y"},{"x":485,"y":225,"c":"l"},{"x":470,"y":248,"c":"y"},{"x":240,"y":205,"c":"y"},{"x":215,"y":185,"c":"l"},{"x":125,"y":190,"c":"y"},{"x":610,"y":160,"c":"g"},{"x":95,"y":205,"c":"d"},{"x":135,"y":225,"c":"l"},{"x":180,"y":255,"c":"l"},{"x":115,"y":258,"c":"y"},{"x":98,"y":282,"c":"y"},{"x":88,"y":303,"c":"o"},{"x":110,"y":315,"c":"d"},{"x":608,"y":253,"c":"r"},{"x":585,"y":268,"c":"l"},{"x":603,"y":308,"c":"o"},{"x":557,"y":312,"c":"g"},{"x":193,"y":305,"c":"r"},{"x":222,"y":305,"c":"g"},{"x":178,"y":328,"c":"o"},{"x":190,"y":333,"c":"g"},{"x":275,"y":322,"c":"y"},{"x":260,"y":343,"c":"l"},{"x":310,"y":315,"c":"g"},{"x":325,"y":308,"c":"d"},{"x":378,"y":323,"c":"o"},{"x":352,"y":340,"c":"o"},{"x":375,"y":335,"c":"g"},{"x":420,"y":330,"c":"g"},{"x":440,"y":310,"c":"g"},{"x":448,"y":335,"c":"l"},{"x":525,"y":335,"c":"l"},{"x":598,"y":335,"c":"g"},{"x":575,"y":350,"c":"y"},{"x":52,"y":327,"c":"y"},{"x":42,"y":348,"c":"l"},{"x":65,"y":362,"c":"y"},{"x":185,"y":362,"c":"l"},{"x":238,"y":375,"c":"r"},{"x":220,"y":378,"c":"g"},{"x":172,"y":378,"c":"d"},{"x":197,"y":395,"c":"l"},{"x":305,"y":368,"c":"l"},{"x":432,"y":355,"c":"g"},{"x":510,"y":350,"c":"g"},{"x":500,"y":355,"c":"g"},{"x":533,"y":368,"c":"g"},{"x":610,"y":368,"c":"d"},{"x":365,"y":392,"c":"y"},{"x":405,"y":385,"c":"g"},{"x":395,"y":400,"c":"g"},{"x":430,"y":390,"c":"y"},{"x":450,"y":397,"c":"y"},{"x":483,"y":402,"c":"y"},{"x":555,"y":408,"c":"g"},{"x":620,"y":408,"c":"a"},{"x":230,"y":412,"c":"y"},{"x":222,"y":422,"c":"y"},{"x":310,"y":415,"c":"y"},{"x":343,"y":408,"c":"g"},{"x":174,"y":425,"c":"d"},{"x":93,"y":435,"c":"l"},{"x":483,"y":430,"c":"g"},{"x":555,"y":430,"c":"y"},{"x":598,"y":438,"c":"a"},{"x":603,"y":455,"c":"r"},{"x":315,"y":450,"c":"g"},{"x":345,"y":450,"c":"g"},{"x":553,"y":455,"c":"g"},{"x":88,"y":460,"c":"r"},{"x":270,"y":465,"c":"y"},{"x":265,"y":478,"c":"a"},{"x":235,"y":473,"c":"l"},{"x":133,"y":490,"c":"r"},{"x":380,"y":488,"c":"a"},{"x":363,"y":490,"c":"g"},{"x":510,"y":470,"c":"g"},{"x":505,"y":490,"c":"g"},{"x":510,"y":500,"c":"g"},{"x":185,"y":505,"c":"g"},{"x":205,"y":498,"c":"l"},{"x":222,"y":495,"c":"l"},{"x":380,"y":515,"c":"l"},{"x":515,"y":522,"c":"l"},{"x":213,"y":533,"c":"g"},{"x":488,"y":533,"c":"g"},{"x":425,"y":540,"c":"r"},{"x":280,"y":547,"c":"d"},{"x":362,"y":565,"c":"l"},{"x":260,"y":575,"c":"l"},{"x":340,"y":578,"c":"l"},{"x":110,"y":130,"c":"d"},{"x":140,"y":140,"c":"d"},{"x":180,"y":150,"c":"d"},{"x":200,"y":165,"c":"d"},{"x":160,"y":130,"c":"d"},{"x":260,"y":165,"c":"g"},{"x":290,"y":145,"c":"d"},{"x":310,"y":185,"c":"d"},{"x":345,"y":185,"c":"d"},{"x":375,"y":165,"c":"d"},{"x":400,"y":200,"c":"d"},{"x":430,"y":180,"c":"d"},{"x":460,"y":165,"c":"d"},{"x":500,"y":170,"c":"d"},{"x":520,"y":180,"c":"d"},{"x":555,"y":180,"c":"d"},{"x":530,"y":125,"c":"d"},{"x":590,"y":190,"c":"d"},{"x":420,"y":215,"c":"d"},{"x":380,"y":225,"c":"d"},{"x":350,"y":240,"c":"d"},{"x":280,"y":225,"c":"d"},{"x":250,"y":205,"c":"d"},{"x":215,"y":210,"c":"d"},{"x":480,"y":190,"c":"l"},{"x":300,"y":240,"c":"d"},{"x":150,"y":155,"c":"g"},{"x":185,"y":125,"c":"g"},{"x":270,"y":185,"c":"g"},{"x":330,"y":195,"c":"g"},{"x":375,"y":195,"c":"g"},{"x":410,"y":225,"c":"g"},{"x":490,"y":170,"c":"g"},{"x":550,"y":140,"c":"g"},{"x":590,"y":150,"c":"g"}]},
"mark":{"type":"point","filled":true,"opacity":1,"shape":"M-1,-1H1V.3L0,1L-1,.3Z","size":38},"encoding":{"x":{"field":"x","type":"quantitative","scale":{"domain":[0,675],"range":[345,570],"nice":false},"axis":null},"y":{"field":"y","type":"quantitative","scale":{"domain":[0,621],"range":[420,627],"nice":false},"axis":null},"color":{"field":"c","type":"nominal","legend":null}}},
{"data":{"values":[{"i":0,"x":353.8,"y":421},{"i":1,"x":354,"y":393},{"i":2,"x":358,"y":370},{"i":3,"x":367,"y":347},{"i":4,"x":380,"y":320},{"i":5,"x":400,"y":301},{"i":6,"x":433,"y":280},{"i":7,"x":460,"y":274},{"i":8,"x":490,"y":276},{"i":9,"x":517,"y":287},{"i":10,"x":540,"y":300},{"i":11,"x":557,"y":312},{"i":12,"x":570,"y":327},{"i":13,"x":580,"y":345},{"i":14,"x":587,"y":365},{"i":15,"x":590,"y":385},{"i":16,"x":589,"y":412},{"i":17,"x":588,"y":421}]},"mark":{"type":"line","color":"#eadcb8","strokeWidth":2,"interpolate":"monotone"},"encoding":{"order":{"field":"i"},"x":{"field":"x","type":"quantitative","scale":{"domain":[0,800],"range":[0,800],"nice":false},"axis":null},"y":{"field":"y","type":"quantitative","scale":{"domain":[0,627],"range":[0,627],"nice":false},"axis":null}}},
{"data":{"values":[{"x":78,"y":140},{"x":120,"y":175},{"x":170,"y":215},{"x":230,"y":250},{"x":290,"y":275},{"x":340,"y":288},{"x":400,"y":292},{"x":470,"y":282},{"x":530,"y":262},{"x":590,"y":230},{"x":632,"y":208}]},"mark":{"type":"line","color":"#eadcb8","strokeWidth":2,"interpolate":"monotone"},"encoding":{"x":{"field":"x","type":"quantitative","scale":{"domain":[0,675],"range":[345,570],"nice":false},"axis":null},"y":{"field":"y","type":"quantitative","scale":{"domain":[0,621],"range":[420,627],"nice":false},"axis":null}}},
{"data":{"values":[{"x":460,"x2":485,"y":68,"y2":68},{"x":472,"x2":472,"y":56,"y2":80},{"x":459,"x2":486,"y":566,"y2":566},{"x":472,"x2":472,"y":553,"y2":577},{"x":119,"x2":143,"y":320,"y2":320},{"x":131,"x2":131,"y":308,"y2":332},{"x":773,"x2":798,"y":319,"y2":319},{"x":785,"x2":785,"y":307,"y2":332}]},"mark":{"type":"rule","color":"#dddddd","strokeWidth":1.5},"encoding":{"x":{"field":"x","type":"quantitative","scale":{"domain":[0,800],"range":[0,800],"nice":false},"axis":null},"x2":{"field":"x2"},"y":{"field":"y","type":"quantitative","scale":{"domain":[0,627],"range":[0,627],"nice":false},"axis":null},"y2":{"field":"y2"}}},
{"data":{"values":[{"l":"> 182","c":"r","y":217},{"l":"160- 182","c":"o","y":230},{"l":"137- 160","c":"a","y":243},{"l":"114- 137","c":"u","y":257},{"l":"91- 114","c":"v","y":271},{"l":"68- 91","c":"y","y":284},{"l":"45- 68","c":"l","y":297},{"l":"22- 45","c":"m","y":311},{"l":"0- 22","c":"g","y":324},{"l":"-22- 0","c":"d","y":338},{"l":"-45- -22","c":"e","y":351},{"l":"-68- -45","c":"t","y":364},{"l":"-91- -68","c":"b","y":378},{"l":"-114- -91","c":"n","y":391},{"l":"-137--114","c":"q","y":404},{"l":"<-137","c":"p","y":418}]},"layer":[
{"mark":{"type":"point","filled":true,"opacity":1,"shape":"M-1,-1H1V.3L0,1L-1,.3Z","size":25},"encoding":{"x":{"datum":40,"type":"quantitative","scale":{"domain":[0,800],"range":[0,800],"nice":false},"axis":null},"y":{"field":"y","type":"quantitative","scale":{"domain":[0,627],"range":[0,627],"nice":false},"axis":null},"color":{"field":"c","type":"nominal","legend":null}}},
{"mark":{"type":"text","font":"Liberation Mono","fontSize":10.5,"align":"right","baseline":"middle","opacity":0.55},"encoding":{"x":{"datum":108,"type":"quantitative","scale":{"domain":[0,800],"range":[0,800],"nice":false},"axis":null},"y":{"field":"y","type":"quantitative","scale":{"domain":[0,627],"range":[0,627],"nice":false},"axis":null},"text":{"field":"l"},"color":{"field":"c","type":"nominal","legend":null}}}]},
{"data":{"values":[{"t":"Super-Kamiokande","x":37,"y":36}]},"mark":{"type":"text","font":"Liberation Sans","fontSize":17.3,"align":"left","baseline":"alphabetic","color":"#b8446e"},"encoding":{"x":{"field":"x","type":"quantitative","scale":{"domain":[0,800],"range":[0,800],"nice":false},"axis":null},"y":{"field":"y","type":"quantitative","scale":{"domain":[0,627],"range":[0,627],"nice":false},"axis":null},"text":{"field":"t"}}},
{"data":{"values":[{"t":"Run 2743  Event 160732","x":37,"y":57}]},"mark":{"type":"text","font":"Liberation Mono","fontSize":11.5,"align":"left","baseline":"alphabetic","color":"#a0a0a0"},"encoding":{"x":{"field":"x","type":"quantitative","scale":{"domain":[0,800],"range":[0,800],"nice":false},"axis":null},"y":{"field":"y","type":"quantitative","scale":{"domain":[0,627],"range":[0,627],"nice":false},"axis":null},"text":{"field":"t"}}},
{"data":{"values":[{"t":"4048 total p.e.","x":40,"y":103},{"t":"p = 689 MeV/c","x":40,"y":148}]},"mark":{"type":"text","font":"Liberation Serif","fontWeight":"bold","fontSize":42.5,"align":"left","baseline":"alphabetic","color":"#0808ee"},"encoding":{"x":{"field":"x","type":"quantitative","scale":{"domain":[0,800],"range":[0,800],"nice":false},"axis":null},"y":{"field":"y","type":"quantitative","scale":{"domain":[0,627],"range":[0,627],"nice":false},"axis":null},"text":{"field":"t"}}},
{"data":{"values":[{"t":"Resid(ns)","x":35,"y":203}]},"mark":{"type":"text","font":"Liberation Mono","fontWeight":"bold","fontSize":13.3,"align":"left","baseline":"alphabetic","color":"#ff2020"},"encoding":{"x":{"field":"x","type":"quantitative","scale":{"domain":[0,800],"range":[0,800],"nice":false},"axis":null},"y":{"field":"y","type":"quantitative","scale":{"domain":[0,627],"range":[0,627],"nice":false},"axis":null},"text":{"field":"t"}}},
{"data":{"values":[{"t":"FC µ cand.","x":157,"y":273}]},"mark":{"type":"text","font":"Liberation Sans","fontWeight":"bold","fontSize":64.5,"align":"left","baseline":"alphabetic","color":"white"},"encoding":{"x":{"field":"x","type":"quantitative","scale":{"domain":[0,800],"range":[0,800],"nice":false},"axis":null},"y":{"field":"y","type":"quantitative","scale":{"domain":[0,627],"range":[0,627],"nice":false},"axis":null},"text":{"field":"t"}}},
{"data":{"values":[{"x":-10,"y":0},{"x":-10,"y":40},{"x":-9.5,"y":22},{"x":-9,"y":10},{"x":-8.5,"y":15},{"x":-8,"y":10},{"x":-7.5,"y":12},{"x":-7,"y":22},{"x":-6.5,"y":22},{"x":-6,"y":10},{"x":-5.5,"y":10},{"x":-5,"y":15},{"x":-4.5,"y":15},{"x":-4,"y":8},{"x":-3.5,"y":15},{"x":-3,"y":13},{"x":-2.5,"y":12},{"x":-2,"y":12},{"x":-1.5,"y":22},{"x":-1,"y":22},{"x":-0.5,"y":22},{"x":0,"y":100},{"x":0.5,"y":255},{"x":1,"y":430},{"x":1.5,"y":330},{"x":2,"y":200},{"x":2.5,"y":165},{"x":3,"y":145},{"x":3.5,"y":105},{"x":4,"y":105},{"x":4.5,"y":70},{"x":5,"y":110},{"x":5.5,"y":125},{"x":6,"y":55},{"x":6.5,"y":30},{"x":7,"y":30},{"x":7.5,"y":25},{"x":8,"y":25},{"x":8.5,"y":5},{"x":9,"y":25},{"x":9.5,"y":15},{"x":10,"y":0}]},"layer":[
{"mark":{"type":"area","interpolate":"step-after","color":{"gradient":"linear","x1":0,"y1":0,"x2":1.2,"y2":0.7,"stops":[{"offset":0,"color":"#1a1af0"},{"offset":0.008,"color":"#ffffff"},{"offset":0.016,"color":"#1a1af0"},{"offset":0.024,"color":"#ffffff"},{"offset":0.032,"color":"#1a1af0"},{"offset":0.04,"color":"#ffffff"},{"offset":0.048,"color":"#1a1af0"},{"offset":0.056,"color":"#ffffff"},{"offset":0.064,"color":"#1a1af0"},{"offset":0.072,"color":"#ffffff"},{"offset":0.08,"color":"#1a1af0"},{"offset":0.088,"color":"#ffffff"},{"offset":0.096,"color":"#1a1af0"},{"offset":0.104,"color":"#ffffff"},{"offset":0.112,"color":"#1a1af0"},{"offset":0.12,"color":"#ffffff"},{"offset":0.128,"color":"#1a1af0"},{"offset":0.136,"color":"#ffffff"},{"offset":0.144,"color":"#1a1af0"},{"offset":0.152,"color":"#ffffff"},{"offset":0.16,"color":"#1a1af0"},{"offset":0.168,"color":"#ffffff"},{"offset":0.176,"color":"#1a1af0"},{"offset":0.184,"color":"#ffffff"},{"offset":0.192,"color":"#1a1af0"},{"offset":0.2,"color":"#ffffff"},{"offset":0.208,"color":"#1a1af0"},{"offset":0.216,"color":"#ffffff"},{"offset":0.224,"color":"#1a1af0"},{"offset":0.232,"color":"#ffffff"},{"offset":0.24,"color":"#1a1af0"},{"offset":0.248,"color":"#ffffff"},{"offset":0.256,"color":"#1a1af0"},{"offset":0.264,"color":"#ffffff"},{"offset":0.272,"color":"#1a1af0"},{"offset":0.28,"color":"#ffffff"},{"offset":0.288,"color":"#1a1af0"},{"offset":0.296,"color":"#ffffff"},{"offset":0.304,"color":"#1a1af0"},{"offset":0.312,"color":"#ffffff"},{"offset":0.32,"color":"#1a1af0"},{"offset":0.328,"color":"#ffffff"},{"offset":0.336,"color":"#1a1af0"},{"offset":0.344,"color":"#ffffff"},{"offset":0.352,"color":"#1a1af0"},{"offset":0.36,"color":"#ffffff"},{"offset":0.368,"color":"#1a1af0"},{"offset":0.376,"color":"#ffffff"},{"offset":0.384,"color":"#1a1af0"},{"offset":0.392,"color":"#ffffff"},{"offset":0.4,"color":"#1a1af0"},{"offset":0.408,"color":"#ffffff"},{"offset":0.416,"color":"#1a1af0"},{"offset":0.424,"color":"#ffffff"},{"offset":0.432,"color":"#1a1af0"},{"offset":0.44,"color":"#ffffff"},{"offset":0.448,"color":"#1a1af0"},{"offset":0.456,"color":"#ffffff"},{"offset":0.464,"color":"#1a1af0"},{"offset":0.472,"color":"#ffffff"},{"offset":0.48,"color":"#1a1af0"},{"offset":0.488,"color":"#ffffff"},{"offset":0.496,"color":"#1a1af0"},{"offset":0.504,"color":"#ffffff"},{"offset":0.512,"color":"#1a1af0"},{"offset":0.52,"color":"#ffffff"},{"offset":0.528,"color":"#1a1af0"},{"offset":0.536,"color":"#ffffff"},{"offset":0.544,"color":"#1a1af0"},{"offset":0.552,"color":"#ffffff"},{"offset":0.56,"color":"#1a1af0"},{"offset":0.568,"color":"#ffffff"},{"offset":0.576,"color":"#1a1af0"},{"offset":0.584,"color":"#ffffff"},{"offset":0.592,"color":"#1a1af0"},{"offset":0.6,"color":"#ffffff"},{"offset":0.608,"color":"#1a1af0"},{"offset":0.616,"color":"#ffffff"},{"offset":0.624,"color":"#1a1af0"},{"offset":0.632,"color":"#ffffff"},{"offset":0.64,"color":"#1a1af0"},{"offset":0.648,"color":"#ffffff"},{"offset":0.656,"color":"#1a1af0"},{"offset":0.664,"color":"#ffffff"},{"offset":0.672,"color":"#1a1af0"},{"offset":0.68,"color":"#ffffff"},{"offset":0.688,"color":"#1a1af0"},{"offset":0.696,"color":"#ffffff"},{"offset":0.704,"color":"#1a1af0"},{"offset":0.712,"color":"#ffffff"},{"offset":0.72,"color":"#1a1af0"},{"offset":0.728,"color":"#ffffff"},{"offset":0.736,"color":"#1a1af0"},{"offset":0.744,"color":"#ffffff"},{"offset":0.752,"color":"#1a1af0"},{"offset":0.76,"color":"#ffffff"},{"offset":0.768,"color":"#1a1af0"},{"offset":0.776,"color":"#ffffff"},{"offset":0.784,"color":"#1a1af0"},{"offset":0.792,"color":"#ffffff"},{"offset":0.8,"color":"#1a1af0"},{"offset":0.808,"color":"#ffffff"},{"offset":0.816,"color":"#1a1af0"},{"offset":0.824,"color":"#ffffff"},{"offset":0.832,"color":"#1a1af0"},{"offset":0.84,"color":"#ffffff"},{"offset":0.848,"color":"#1a1af0"},{"offset":0.856,"color":"#ffffff"},{"offset":0.864,"color":"#1a1af0"},{"offset":0.872,"color":"#ffffff"},{"offset":0.88,"color":"#1a1af0"},{"offset":0.888,"color":"#ffffff"},{"offset":0.896,"color":"#1a1af0"},{"offset":0.904,"color":"#ffffff"},{"offset":0.912,"color":"#1a1af0"},{"offset":0.92,"color":"#ffffff"},{"offset":0.928,"color":"#1a1af0"},{"offset":0.936,"color":"#ffffff"},{"offset":0.944,"color":"#1a1af0"},{"offset":0.952,"color":"#ffffff"},{"offset":0.96,"color":"#1a1af0"},{"offset":0.968,"color":"#ffffff"},{"offset":0.976,"color":"#1a1af0"},{"offset":0.984,"color":"#ffffff"},{"offset":0.992,"color":"#1a1af0"},{"offset":1,"color":"#ffffff"}]}},"encoding":{"x":{"field":"x","type":"quantitative","scale":{"domain":[-10,10],"range":[57,333],"nice":false},"axis":{"values":[-10,-5,0,5,10],"orient":"bottom","offset":-25,"grid":false,"domain":false,"ticks":false,"labelFlush":false,"labelOverlap":false,"labelFont":"Liberation Sans","labelFontSize":12.5,"labelColor":"#555555","labelPadding":1,"title":null}},"y":{"field":"y","type":"quantitative","scale":{"domain":[0,500],"range":[602,441],"nice":false},"axis":{"values":[0,100,200,300,400,500],"orient":"left","offset":-57,"grid":false,"domain":false,"ticks":false,"labelFlush":false,"labelOverlap":false,"labelFont":"Liberation Sans","labelFontSize":12.5,"labelColor":"#444444","labelPadding":6,"title":null}}}},
{"mark":{"type":"line","interpolate":"step-after","color":"#0000f0","strokeWidth":2.5},"encoding":{"x":{"field":"x","type":"quantitative"},"y":{"field":"y","type":"quantitative"}}},
{"data":{"values":[{"x":-10,"x2":10,"y":0,"y2":500}]},"mark":{"type":"rect","fillOpacity":0,"stroke":"black","strokeWidth":1.5},"encoding":{"x":{"field":"x","type":"quantitative"},"x2":{"field":"x2"},"y":{"field":"y","type":"quantitative"},"y2":{"field":"y2"}}},
{"data":{"values":[{"x":-5,"y":500,"y2":478},{"x":0,"y":500,"y2":478},{"x":5,"y":500,"y2":478}]},"mark":{"type":"rule","color":"black","strokeWidth":1.5},"encoding":{"x":{"field":"x","type":"quantitative"},"y":{"field":"y","type":"quantitative"},"y2":{"field":"y2"}}},
{"data":{"values":[{"x":-10,"x2":-9.5,"y":100},{"x":-10,"x2":-9.5,"y":200},{"x":-10,"x2":-9.5,"y":300},{"x":-10,"x2":-9.5,"y":400}]},"mark":{"type":"rule","color":"black","strokeWidth":1.5},"encoding":{"x":{"field":"x","type":"quantitative"},"x2":{"field":"x2"},"y":{"field":"y","type":"quantitative"}}}]},
{"data":{"values":[{"t":"meters","x":200,"y":626}]},"mark":{"type":"text","font":"Liberation Sans","fontSize":12.5,"align":"center","baseline":"alphabetic","color":"#444444"},"encoding":{"x":{"field":"x","type":"quantitative","scale":{"domain":[0,800],"range":[0,800],"nice":false},"axis":null},"y":{"field":"y","type":"quantitative","scale":{"domain":[0,627],"range":[0,627],"nice":false},"axis":null},"text":{"field":"t"}}},
{"data":{"values":[{"t":"Charge","x":17,"y":521}]},"mark":{"type":"text","font":"Liberation Sans","fontSize":13,"align":"center","baseline":"alphabetic","angle":270,"color":"#333344"},"encoding":{"x":{"field":"x","type":"quantitative","scale":{"domain":[0,800],"range":[0,800],"nice":false},"axis":null},"y":{"field":"y","type":"quantitative","scale":{"domain":[0,627],"range":[0,627],"nice":false},"axis":null},"text":{"field":"t"}}},
{"data":{"values":[{"x":510,"y":0.7},{"x":530,"y":1},{"x":780,"y":2},{"x":820,"y":1},{"x":923,"y":0.45},{"x":940,"y":1},{"x":966,"y":340},{"x":984,"y":800},{"x":1041,"y":86},{"x":1066,"y":53},{"x":1102,"y":44},{"x":1138,"y":30},{"x":1167,"y":22},{"x":1228,"y":12.4},{"x":1253,"y":2.6},{"x":1307,"y":1.8},{"x":1390,"y":1},{"x":1425,"y":0.45},{"x":1468,"y":2.6},{"x":1515,"y":1},{"x":1587,"y":7},{"x":1605,"y":140},{"x":1641,"y":18},{"x":1677,"y":7.7},{"x":1730,"y":8.4},{"x":1784,"y":2},{"x":1831,"y":3.5},{"x":1864,"y":1},{"x":1917,"y":0.45}]},"layer":[
{"mark":{"type":"area","interpolate":"step-after","color":"black"},"encoding":{"x":{"field":"x","type":"quantitative","scale":{"domain":[0,2000],"range":[599,785],"nice":false},"axis":{"values":[0,500,1000,1500,2000],"format":"d","orient":"bottom","offset":-46,"grid":false,"domain":false,"ticks":false,"labelFlush":false,"labelOverlap":false,"labelFont":"Liberation Sans","labelFontSize":9.5,"labelColor":"#808080","labelPadding":4,"title":null}},"y":{"field":"y","type":"quantitative","scale":{"type":"log","domain":[0.45,830],"range":[581,452],"nice":false},"axis":null},"y2":{"datum":0.45}}},
{"data":{"values":[{"x":1000,"x2":1041,"y":650,"c":"g"},{"x":1041,"x2":1060,"y":70,"c":"l"},{"x":1060,"x2":1085,"y":50,"c":"y"},{"x":1085,"x2":1110,"y":42,"c":"y"},{"x":1110,"x2":1135,"y":36,"c":"v"},{"x":1135,"x2":1160,"y":28,"c":"u"},{"x":1160,"x2":1180,"y":23,"c":"a"},{"x":1180,"x2":1200,"y":20,"c":"o"},{"x":1200,"x2":1228,"y":19,"c":"r"},{"x":1228,"x2":1253,"y":11,"c":"r"},{"x":1253,"x2":1307,"y":2.4,"c":"r"},{"x":1307,"x2":1390,"y":1.7,"c":"r"},{"x":1390,"x2":1430,"y":1,"c":"r"},{"x":1480,"x2":1515,"y":2.4,"c":"r"},{"x":1587,"x2":1605,"y":6,"c":"r"},{"x":1605,"x2":1641,"y":18,"c":"r"},{"x":1641,"x2":1677,"y":7,"c":"r"},{"x":1677,"x2":1700,"y":2.4,"c":"r"},{"x":1700,"x2":1730,"y":5,"c":"r"},{"x":1730,"x2":1784,"y":2.3,"c":"r"},{"x":1784,"x2":1917,"y":1,"c":"r"},{"x":625,"x2":650,"y":0.9,"c":"q"},{"x":700,"x2":715,"y":0.8,"c":"q"},{"x":755,"x2":780,"y":0.9,"c":"q"},{"x":840,"x2":862,"y":0.9,"c":"q"}]},"mark":{"type":"rect"},"encoding":{"x":{"field":"x","type":"quantitative"},"x2":{"field":"x2"},"y":{"field":"y","type":"quantitative"},"y2":{"datum":0.45},"color":{"field":"c","type":"nominal","legend":null}}},
{"mark":{"type":"line","interpolate":"step-after","color":"black","strokeWidth":1.5},"encoding":{"x":{"field":"x","type":"quantitative"},"y":{"field":"y","type":"quantitative"}}},
{"data":{"values":[{"x":0,"x2":2000,"y":0.45,"y2":830}]},"mark":{"type":"rect","fillOpacity":0,"stroke":"black","strokeWidth":1.5},"encoding":{"x":{"field":"x","type":"quantitative"},"x2":{"field":"x2"},"y":{"field":"y","type":"quantitative"},"y2":{"field":"y2"}}},
{"data":{"values":[{"x":0,"x2":55,"y":0.5},{"x":0,"x2":55,"y":0.6},{"x":0,"x2":55,"y":0.7},{"x":0,"x2":55,"y":0.8},{"x":0,"x2":55,"y":0.9},{"x":0,"x2":100,"y":1},{"x":0,"x2":55,"y":2},{"x":0,"x2":55,"y":3},{"x":0,"x2":55,"y":4},{"x":0,"x2":55,"y":5},{"x":0,"x2":55,"y":6},{"x":0,"x2":55,"y":7},{"x":0,"x2":55,"y":8},{"x":0,"x2":55,"y":9},{"x":0,"x2":100,"y":10},{"x":0,"x2":55,"y":20},{"x":0,"x2":55,"y":30},{"x":0,"x2":55,"y":40},{"x":0,"x2":55,"y":50},{"x":0,"x2":55,"y":60},{"x":0,"x2":55,"y":70},{"x":0,"x2":55,"y":80},{"x":0,"x2":55,"y":90},{"x":0,"x2":100,"y":100},{"x":0,"x2":55,"y":200},{"x":0,"x2":55,"y":300},{"x":0,"x2":55,"y":400},{"x":0,"x2":55,"y":500},{"x":0,"x2":55,"y":600},{"x":0,"x2":55,"y":700},{"x":0,"x2":55,"y":800}]},"mark":{"type":"rule","color":"black","strokeWidth":1.5},"encoding":{"x":{"field":"x","type":"quantitative"},"x2":{"field":"x2"},"y":{"field":"y","type":"quantitative"}}},
{"data":{"values":[{"x":100,"y":0.45,"y2":0.55},{"x":200,"y":0.45,"y2":0.55},{"x":300,"y":0.45,"y2":0.55},{"x":400,"y":0.45,"y2":0.55},{"x":500,"y":0.45,"y2":0.55}]},"mark":{"type":"rule","color":"black","strokeWidth":1.5},"encoding":{"x":{"field":"x","type":"quantitative"},"y":{"field":"y","type":"quantitative"},"y2":{"field":"y2"}}}]},
{"data":{"values":[{"t":"10","x":577,"y":491},{"t":"10","x":577,"y":530},{"t":"10","x":577,"y":570}]},"mark":{"type":"text","font":"Liberation Sans","fontSize":9.5,"align":"left","baseline":"alphabetic","color":"#808080"},"encoding":{"x":{"field":"x","type":"quantitative","scale":{"domain":[0,800],"range":[0,800],"nice":false},"axis":null},"y":{"field":"y","type":"quantitative","scale":{"domain":[0,627],"range":[0,627],"nice":false},"axis":null},"text":{"field":"t"}}},
{"data":{"values":[{"t":"2","x":591,"y":487},{"t":"1","x":591,"y":526},{"t":"0","x":591,"y":566}]},"mark":{"type":"text","font":"Liberation Sans","fontSize":9.5,"align":"left","baseline":"alphabetic","color":"#808080"},"encoding":{"x":{"field":"x","type":"quantitative","scale":{"domain":[0,800],"range":[0,800],"nice":false},"axis":null},"y":{"field":"y","type":"quantitative","scale":{"domain":[0,627],"range":[0,627],"nice":false},"axis":null},"text":{"field":"t"}}},
{"data":{"values":[{"t":"Times (ns)","x":685,"y":615}]},"mark":{"type":"text","font":"Liberation Sans","fontSize":14.5,"align":"center","baseline":"alphabetic","color":"#4a4a4a"},"encoding":{"x":{"field":"x","type":"quantitative","scale":{"domain":[0,800],"range":[0,800],"nice":false},"axis":null},"y":{"field":"y","type":"quantitative","scale":{"domain":[0,627],"range":[0,627],"nice":false},"axis":null},"text":{"field":"t"}}}
]}
